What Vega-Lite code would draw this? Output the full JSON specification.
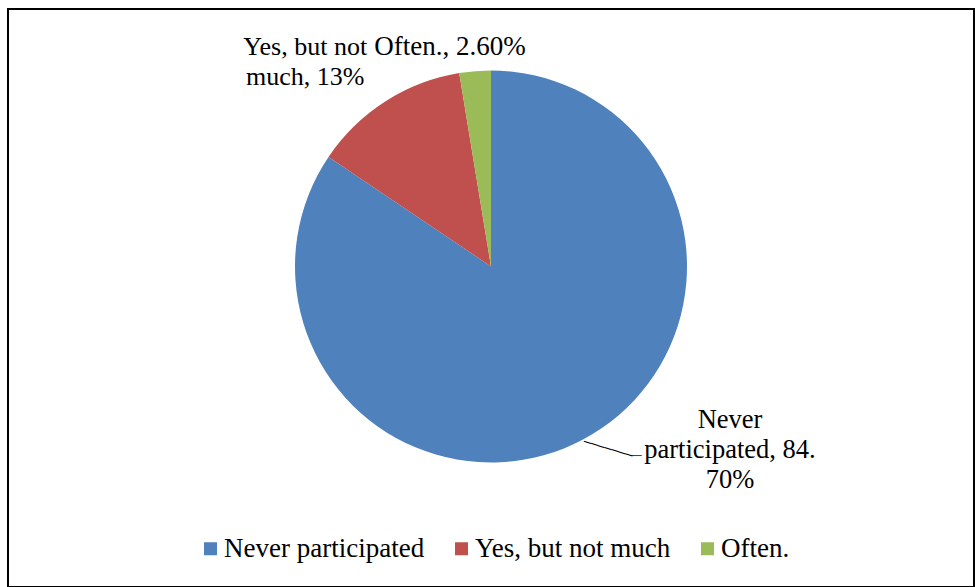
{
  "$schema": "https://vega.github.io/schema/vega-lite/v6.json",
  "width": 975,
  "height": 587,
  "autosize": {"type": "fit", "contains": "padding"},
  "padding": {"left": 8, "top": 8, "right": 1, "bottom": 0},
  "background": "white",
  "view": {"stroke": "black", "strokeWidth": 2, "fill": "white"},
  "config": {
    "view": {"stroke": "black", "strokeWidth": 2},
    "font": "Liberation Serif"
  },
  "data": {
    "values": [
      {"category": "Never participated", "value": 84.7, "idx": 1, "label": "Never\nparticipated, 84.\n70%"},
      {"category": "Yes, but not much", "value": 13, "idx": 2, "label": "Yes, but not\nmuch, 13%"},
      {"category": "Often.", "value": 2.6, "idx": 3, "label": "Often., 2.60%"}
    ]
  },
  "encoding": {
    "theta": {"field": "value", "type": "quantitative", "stack": true},
    "order": {"field": "idx", "type": "quantitative"}
  },
  "layer": [
    {
      "mark": {"type": "arc", "radius": 196, "y": {"expr": "height/2-31.5"}},
      "encoding": {
        "color": {
          "field": "category",
          "type": "nominal",
          "scale": {
            "domain": ["Never participated", "Yes, but not much", "Often."],
            "range": ["#4F81BD", "#C0504D", "#9BBB59"]
          },
          "legend": {
            "orient": "none",
            "legendX": 189,
            "legendY": 526,
            "direction": "horizontal",
            "title": null,
            "symbolType": "square",
            "symbolSize": 169,
            "symbolStrokeWidth": 0,
            "labelFont": "Liberation Serif",
            "labelFontSize": 27,
            "labelColor": "black",
            "labelOffset": 0,
            "labelLimit": 0,
            "columnPadding": 23
          }
        }
      }
    },
    {
      "mark": {"type": "text", "radius": 196, "y": {"expr": "height/2-31.5"}, "dx": 147, "dy": -12, "align": "center", "baseline": "alphabetic", "lineBreak": "\n", "lineHeight": 30, "font": "Liberation Serif", "fontSize": 26.5, "color": "black"},
      "encoding": {"text": {"condition": {"test": "datum.category === 'Never participated'", "field": "label"}, "value": ""}}
    },
    {
      "mark": {"type": "text", "radius": 196, "y": {"expr": "height/2-31.5"}, "dx": -80, "dy": -46, "align": "center", "baseline": "alphabetic", "lineBreak": "\n", "lineHeight": 30, "font": "Liberation Serif", "fontSize": 26, "color": "black"},
      "encoding": {"text": {"condition": {"test": "datum.category === 'Yes, but not much'", "field": "label"}, "value": ""}}
    },
    {
      "mark": {"type": "text", "radius": 196, "y": {"expr": "height/2-31.5"}, "dx": -25, "dy": -16, "align": "center", "baseline": "alphabetic", "lineBreak": "\n", "lineHeight": 30, "font": "Liberation Serif", "fontSize": 27, "color": "black"},
      "encoding": {"text": {"condition": {"test": "datum.category === 'Often.'", "field": "label"}, "value": ""}}
    },
    {
      "mark": {"type": "text", "radius": 198, "y": {"expr": "height/2-31.5"}, "angle": 17, "align": "left", "baseline": "middle", "font": "DejaVu Sans", "fontSize": 12, "color": "black"},
      "encoding": {"text": {"condition": {"test": "datum.category === 'Never participated'", "value": "───────"}, "value": ""}}
    },
    {
      "mark": {"type": "text", "radius": 198, "y": {"expr": "height/2-31.5"}, "dx": 47, "dy": 15, "align": "left", "baseline": "middle", "font": "DejaVu Sans", "fontSize": 9, "color": "black"},
      "encoding": {"text": {"condition": {"test": "datum.category === 'Never participated'", "value": "──"}, "value": ""}}
    }
  ]
}
